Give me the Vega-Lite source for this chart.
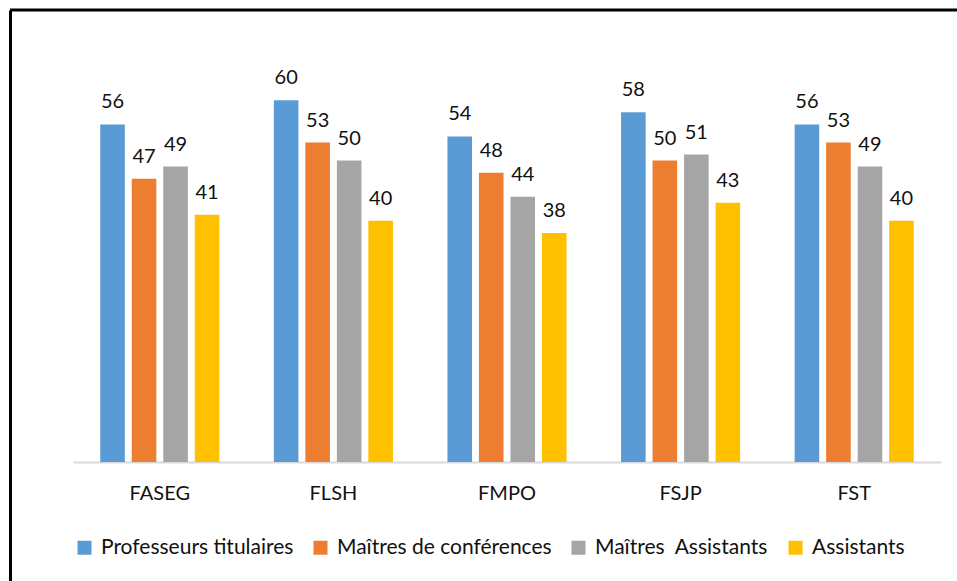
{
  "$schema": "https://vega.github.io/schema/vega-lite/v6.json",
  "autosize": "none",
  "width": 947,
  "height": 571,
  "padding": {"left": 10, "top": 10, "right": 0, "bottom": 0},
  "background": "white",
  "config": {
    "font": "Lato",
    "view": {"stroke": null}
  },
  "data": {
    "values": [
      {"faculty": "FASEG", "grade": "Professeurs titulaires", "value": 56},
      {"faculty": "FASEG", "grade": "Maîtres de conférences", "value": 47},
      {"faculty": "FASEG", "grade": "Maîtres\u00a0 Assistants", "value": 49},
      {"faculty": "FASEG", "grade": "Assistants", "value": 41},
      {"faculty": "FLSH", "grade": "Professeurs titulaires", "value": 60},
      {"faculty": "FLSH", "grade": "Maîtres de conférences", "value": 53},
      {"faculty": "FLSH", "grade": "Maîtres\u00a0 Assistants", "value": 50},
      {"faculty": "FLSH", "grade": "Assistants", "value": 40},
      {"faculty": "FMPO", "grade": "Professeurs titulaires", "value": 54},
      {"faculty": "FMPO", "grade": "Maîtres de conférences", "value": 48},
      {"faculty": "FMPO", "grade": "Maîtres\u00a0 Assistants", "value": 44},
      {"faculty": "FMPO", "grade": "Assistants", "value": 38},
      {"faculty": "FSJP", "grade": "Professeurs titulaires", "value": 58},
      {"faculty": "FSJP", "grade": "Maîtres de conférences", "value": 50},
      {"faculty": "FSJP", "grade": "Maîtres\u00a0 Assistants", "value": 51},
      {"faculty": "FSJP", "grade": "Assistants", "value": 43},
      {"faculty": "FST", "grade": "Professeurs titulaires", "value": 56},
      {"faculty": "FST", "grade": "Maîtres de conférences", "value": 53},
      {"faculty": "FST", "grade": "Maîtres\u00a0 Assistants", "value": 49},
      {"faculty": "FST", "grade": "Assistants", "value": 40}
    ]
  },
  "layer": [
    {
      "encoding": {
        "x": {
          "field": "faculty",
          "type": "nominal",
          "sort": ["FASEG", "FLSH", "FMPO", "FSJP", "FST"],
          "scale": {"range": [63, 931], "paddingInner": 0.274, "paddingOuter": 0.137},
          "axis": {
            "title": null,
            "orient": "bottom",
            "offset": -119,
            "labelAngle": 0,
            "labelFontSize": 20,
            "labelColor": "#111111",
            "labelPadding": 21,
            "ticks": false,
            "domainColor": "#D9D9D9",
            "domainWidth": 2,
            "grid": false
          }
        },
        "xOffset": {
          "field": "grade",
          "type": "nominal",
          "sort": ["Professeurs titulaires", "Maîtres de conférences", "Maîtres\u00a0 Assistants", "Assistants"],
          "scale": {"paddingInner": 0.22, "paddingOuter": 0.11}
        },
        "y": {
          "field": "value",
          "type": "quantitative",
          "scale": {"domain": [-19.74, 74.98], "nice": false, "zero": false},
          "axis": {
            "title": null,
            "orient": "left",
            "labels": false,
            "ticks": false,
            "grid": false,
            "domain": true,
            "domainColor": "black",
            "domainWidth": 3
          }
        }
      },
      "layer": [
        {
          "mark": {"type": "bar"},
          "encoding": {
            "color": {
              "field": "grade",
              "type": "nominal",
              "sort": ["Professeurs titulaires", "Maîtres de conférences", "Maîtres\u00a0 Assistants", "Assistants"],
              "scale": {
                "domain": ["Professeurs titulaires", "Maîtres de conférences", "Maîtres\u00a0 Assistants", "Assistants"],
                "range": ["#5B9BD5", "#ED7D31", "#A5A5A5", "#FFC000"]
              },
              "legend": {
                "title": null,
                "orient": "none",
                "direction": "horizontal",
                "legendX": 64,
                "legendY": 527,
                "padding": 0,
                "symbolType": "square",
                "symbolSize": 196,
                "symbolStrokeWidth": 0,
                "symbolOpacity": 1,
                "labelFontSize": 21,
                "labelLimit": 0,
                "labelColor": "#111111",
                "labelOffset": 6,
                "columnPadding": 16
              }
            }
          }
        },
        {
          "mark": {"type": "text", "baseline": "alphabetic", "dy": -16, "fontSize": 20, "color": "#111111"},
          "encoding": {"text": {"field": "value", "type": "quantitative"}}
        }
      ]
    },
    {
      "data": {"values": [{"edge": "top"}]},
      "mark": {"type": "rule", "color": "black", "strokeWidth": 3},
      "encoding": {"y": {"datum": 74.98}}
    }
  ]
}
